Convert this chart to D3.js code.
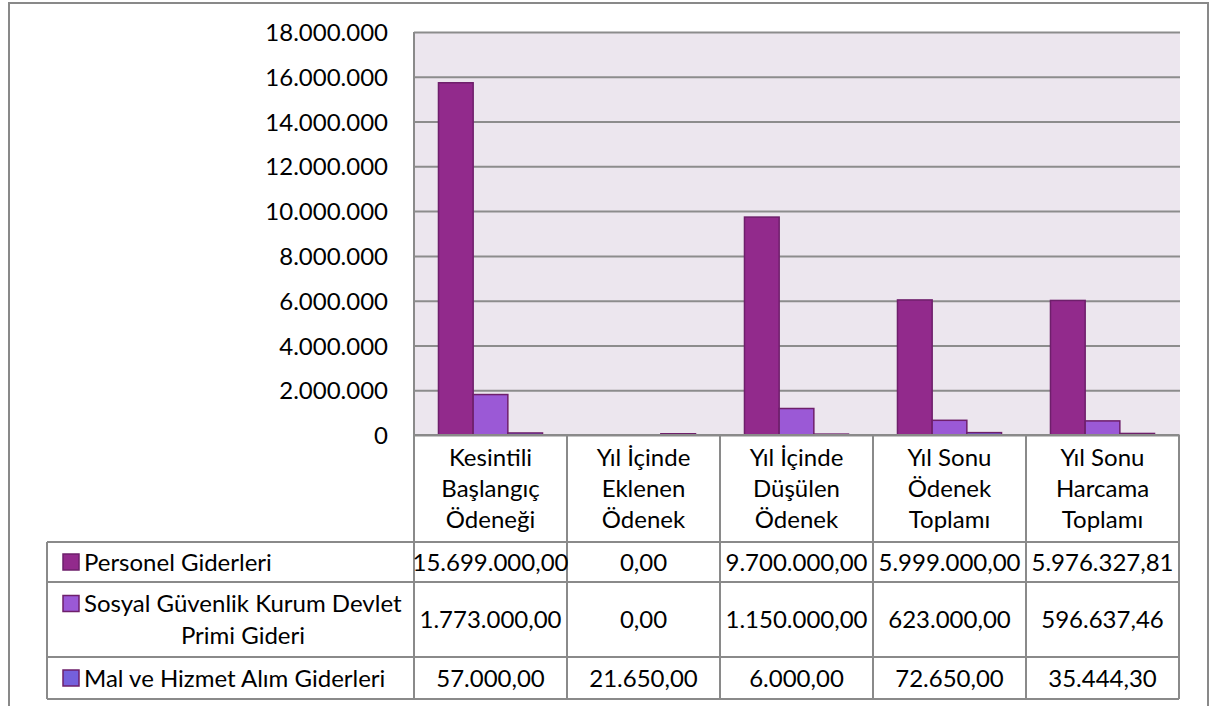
<!DOCTYPE html>
<html>
<head>
<meta charset="utf-8">
<script src="https://cdn.jsdelivr.net/npm/d3@7"></script>
<style>
  body { margin: 0; background: #fff; }
  svg text { font-family: Lato, "Open Sans", sans-serif; fill: #000; }
</style>
</head>
<body>
<script>
//Chart data
var categories = [
    ["Kesintili", "Başlangıç", "Ödeneği"],
    ["Yıl İçinde", "Eklenen", "Ödenek"],
    ["Yıl İçinde", "Düşülen", "Ödenek"],
    ["Yıl Sonu", "Ödenek", "Toplamı"],
    ["Yıl Sonu", "Harcama", "Toplamı"]
];
var seriesNames = [
    ["Personel Giderleri"],
    ["Sosyal Güvenlik Kurum Devlet", "Primi Gideri"],
    ["Mal ve Hizmet Alım Giderleri"]
];
var personel = [15699000, 0, 9700000, 5999000, 5976327.81];
var sosyal = [1773000, 0, 1150000, 623000, 596637.46];
var malHizmet = [57000, 21650, 6000, 72650, 35444.30];
var tickValues = [0, 2000000, 4000000, 6000000, 8000000, 10000000, 12000000, 14000000, 16000000, 18000000];

var seriesValues = [personel, sosyal, malHizmet];
var colors = ["#922a8c", "#9b59d6", "#7560dc"];

//Frame dimensions
var width = 1210, height = 706,
    plotLeft = 414, plotRight = 1180,
    plotTop = 32, plotBottom = 435,
    legendLeft = 47,
    headerBottom = 542,
    rowHeights = [40, 75, 42],
    fontSize = 24,
    lineGap = 31;

//Turkish number format
var tr = d3.formatLocale({decimal: ",", thousands: ".", grouping: [3], currency: ["", ""]});
var fmtTick = tr.format(",.0f"),
    fmtCell = tr.format(",.2f");

var svg = d3.select("body")
    .append("svg")
    .attr("width", width)
    .attr("height", height);

//Scales
var x0 = d3.scaleBand()
    .domain(d3.range(categories.length))
    .range([plotLeft, plotRight - 1])
    .paddingInner(0.32)
    .paddingOuter(0.16);

var x1 = d3.scaleBand()
    .domain(d3.range(seriesValues.length))
    .range([0, x0.bandwidth()]);

var y = d3.scaleLinear()
    .domain([0, 18000000])
    .range([plotBottom, plotTop]);

//Plot background
svg.append("rect")
    .attr("x", plotLeft)
    .attr("y", plotTop)
    .attr("width", plotRight - plotLeft)
    .attr("height", plotBottom - plotTop)
    .style("fill", "#ece6ee");

//Gridlines and tick labels
var yAxis = d3.axisLeft(y)
    .tickValues(tickValues)
    .tickFormat(fmtTick)
    .tickSize(-(plotRight - plotLeft))
    .tickPadding(26);

var axis = svg.append("g")
    .attr("transform", "translate(" + plotLeft + ",0)")
    .call(yAxis);
axis.select(".domain").remove();
axis.selectAll(".tick line")
    .style("stroke", "#8c8c8c")
    .style("stroke-width", 2);
axis.selectAll(".tick text")
    .style("font-size", "24px")
    .attr("dy", "0.36em");

//Bars
var groups = svg.selectAll(".group")
    .data(categories)
    .enter()
    .append("g")
    .attr("class", "group")
    .attr("transform", function(d, i){ return "translate(" + x0(i) + ",0)"; });

groups.selectAll("rect")
    .data(function(d, i){
        return seriesValues.map(function(s, k){ return {k: k, v: s[i]}; });
    })
    .enter()
    .append("rect")
    .filter(function(d){ return d.v > 0; })
    .attr("x", function(d){ return x1(d.k); })
    .attr("y", function(d){ return y(d.v) - 0.75; })
    .attr("width", x1.bandwidth())
    .attr("height", function(d){ return plotBottom - y(d.v) + 0.75; })
    .style("fill", function(d){ return colors[d.k]; })
    .style("stroke", "#6e1f6b")
    .style("stroke-width", 1.5);

//Data table
var lineColor = "#8a8a8a";
var colEdges = categories.map(function(d, i){ return x0(i) - x0.step() * x0.paddingInner() / 2; });
colEdges.push(plotRight - 1);

var rowEdges = [headerBottom];
rowHeights.forEach(function(h){ rowEdges.push(rowEdges[rowEdges.length - 1] + h); });
var tableBottom = rowEdges[rowEdges.length - 1];

var table = svg.append("g").attr("class", "table");

//Vertical lines of the data columns
colEdges.forEach(function(cx){
    table.append("line")
        .attr("x1", cx).attr("x2", cx)
        .attr("y1", cx === colEdges[0] ? plotTop : plotBottom)
        .attr("y2", tableBottom)
        .style("stroke", lineColor).style("stroke-width", 2);
});

//Horizontal lines
table.append("line")
    .attr("x1", plotLeft).attr("x2", plotRight - 1)
    .attr("y1", plotBottom).attr("y2", plotBottom)
    .style("stroke", lineColor).style("stroke-width", 2);
rowEdges.forEach(function(ry){
    table.append("line")
        .attr("x1", legendLeft).attr("x2", plotRight - 1)
        .attr("y1", ry).attr("y2", ry)
        .style("stroke", lineColor).style("stroke-width", 2);
});
table.append("line")
    .attr("x1", legendLeft).attr("x2", legendLeft)
    .attr("y1", headerBottom).attr("y2", tableBottom)
    .style("stroke", lineColor).style("stroke-width", 2);

//Category labels
var headerMid = (plotBottom + headerBottom) / 2;
categories.forEach(function(lines, i){
    var cx = x0(i) + x0.bandwidth() / 2;
    lines.forEach(function(t, j){
        table.append("text")
            .attr("x", cx)
            .attr("y", headerMid + (j - (lines.length - 1) / 2) * lineGap)
            .attr("dy", "0.36em")
            .attr("text-anchor", "middle")
            .style("font-size", fontSize + "px")
            .text(t);
    });
});

//Series rows: legend key, name and values
seriesNames.forEach(function(lines, k){
    var top = rowEdges[k], mid = top + rowHeights[k] / 2;
    var firstY = mid - (lines.length - 1) / 2 * 32;

    table.append("rect")
        .attr("x", 63).attr("y", firstY - 8)
        .attr("width", 16).attr("height", 16)
        .style("fill", colors[k])
        .style("stroke", "#6e1f6b")
        .style("stroke-width", 1.5);

    var first = table.append("text")
        .attr("x", 84)
        .attr("y", firstY)
        .attr("dy", "0.36em")
        .style("font-size", fontSize + "px")
        .text(lines[0]);

    if (lines.length > 1) {
        var box = first.node().getBBox();
        table.append("text")
            .attr("x", box.x + box.width / 2)
            .attr("y", firstY + 32)
            .attr("dy", "0.36em")
            .attr("text-anchor", "middle")
            .style("font-size", fontSize + "px")
            .text(lines[1]);
    }

    seriesValues[k].forEach(function(v, i){
        table.append("text")
            .attr("x", x0(i) + x0.bandwidth() / 2)
            .attr("y", mid)
            .attr("dy", "0.36em")
            .attr("text-anchor", "middle")
            .style("font-size", fontSize + "px")
            .text(fmtCell(v));
    });
});

//Outer chart frame
svg.append("path")
    .attr("d", "M9,706V3H1208V706")
    .style("fill", "none")
    .style("stroke", "#898989")
    .style("stroke-width", 2);
</script>
</body>
</html>
